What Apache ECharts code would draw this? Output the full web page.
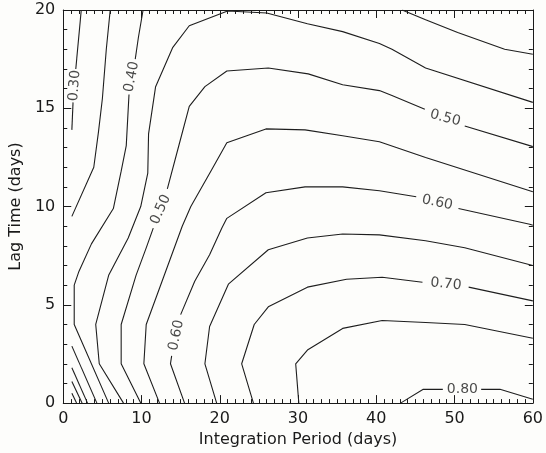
<!DOCTYPE html>
<html>
<head>
<meta charset="utf-8">
<script src="https://cdn.jsdelivr.net/npm/echarts@6/dist/echarts.min.js"></script>
<style>
  html, body { margin: 0; padding: 0; background: #fdfdfb; }
  #chart { width: 546px; height: 453px; }
</style>
</head>
<body>
<div id="chart"></div>
<script>
// contour pieces, [integration period, lag time]
const c020 = [[[1.1, 0.5], [1.7, 0]]];
const c025 = [[[1.1, 1.1], [2.4, 0]]];
const c030 = [
  [[1.1, 1.8], [3.1, 0]],
  [[2.3, 20], [1.6, 17.0]],
  [[1.25, 15.3], [1.1, 13.9]]
];
const c035 = [
  [[1.1, 2.9], [4.3, 0]],
  [[6.0, 20], [5.5, 18.0], [5.0, 15.5], [4.5, 13.8], [3.9, 12.0], [1.1, 9.5]]
];
const c040 = [
  [[10.2, 20], [9.6, 18.6], [9.2, 17.5]],
  [[8.4, 15.7], [8.05, 13.1], [7.4, 11.8], [6.4, 9.9], [3.6, 8.1], [2.0, 6.7], [1.4, 6.0], [1.4, 4.0], [5.8, 0]],
  [[43.3, 20], [46.3, 19.5], [50.4, 18.85], [56.4, 18.0], [60, 17.75]]
];
const c045 = [
  [[7.7, 0], [4.6, 2], [4.15, 4], [5.8, 6.5], [8.3, 8.4], [9.9, 10], [10.8, 11.7], [10.9, 13.7], [11.8, 16.1],
   [14, 18.1], [16.1, 19.2], [21, 19.95], [26, 19.85], [31.2, 19.3], [35.7, 18.9], [40.4, 18.3], [42, 18.0],
   [46.3, 17.05], [60, 15.3]]
];
const c050 = [
  [[9.9, 0], [7.4, 2], [7.4, 4], [9.3, 6.5], [10.6, 7.9], [11.5, 8.9]],
  [[13.3, 10.9], [15, 13.45], [16.1, 15.1], [18.1, 16.1], [20.9, 16.9], [26.2, 17.05], [31.3, 16.75],
   [35.7, 16.2], [40.4, 15.9], [42, 15.65], [46.2, 14.95]],
  [[51.3, 14.1], [59.6, 13.1], [60, 13.05]]
];
const c055 = [
  [[12.3, 0], [10.3, 2], [10.6, 4], [15.2, 9.0], [16.3, 10.0], [19, 11.9], [20.9, 13.25], [25.9, 13.95],
   [30.9, 13.9], [35.7, 13.6], [40.4, 13.3], [46.3, 12.5], [60, 10.75]]
];
const c060 = [
  [[15.5, 0], [13.7, 2], [13.85, 2.4]],
  [[15.0, 4.5], [16.8, 6.2], [18.7, 7.55], [20.25, 8.9], [20.9, 9.4], [25.9, 10.7], [30.9, 11.0],
   [35.7, 11.0], [40.4, 10.8], [45.1, 10.5]],
  [[50.5, 9.9], [59.6, 9.1], [60, 9.05]]
];
const c065 = [
  [[19.6, 0], [18.1, 2], [18.7, 3.9], [21.1, 6.05], [26.2, 7.8], [31.2, 8.4], [35.7, 8.6], [40.4, 8.56],
   [46.3, 8.26], [51.3, 7.9], [60, 7.0]]
];
const c070 = [
  [[24.3, 0], [22.8, 2], [24.4, 4], [26.2, 4.9], [31.2, 5.9], [36.2, 6.3], [40.75, 6.4], [45.9, 6.15]],
  [[51.8, 5.9], [60, 5.2]]
];
const c075 = [
  [[30.1, 0], [29.7, 2], [31.2, 2.7], [35.7, 3.8], [40.75, 4.2], [46.3, 4.1], [51.3, 4.0], [60, 3.3]]
];
const c080 = [
  [[43.1, 0], [46, 0.7], [48.5, 0.7]],
  [[53.4, 0.7], [55.8, 0.7], [60, 0.2]]
];

const labelText = ['0.30', '0.40', '0.50', '0.60', '0.50', '0.60', '0.70', '0.80'];
const labelPos = [[1.45, 16.15], [8.75, 16.6], [12.45, 9.85], [14.45, 3.45], [48.8, 14.5], [47.8, 10.2], [48.9, 6.05], [51.0, 0.72]];
const labelAngle = [85, 79, 66, 78, -15, -12, -6, 0];

const xTicks = { min: 0, max: 60, step: 10 };
const yTicks = { min: 0, max: 20, step: 5 };

const allContours = [c020, c025, c030, c035, c040, c045, c050, c055, c060, c065, c070, c075, c080];

const series = [];
allContours.forEach(function (pieces) {
  pieces.forEach(function (pts) {
    series.push({
      type: 'line',
      data: pts,
      showSymbol: false,
      silent: true,
      lineStyle: { color: '#1e1e1e', width: 1.1 }
    });
  });
});
series.push({
  type: 'scatter',
  symbolSize: 0,
  silent: true,
  data: labelPos.map(function (p, i) {
    return {
      value: p,
      label: { show: true, position: 'inside', formatter: labelText[i], rotate: labelAngle[i] }
    };
  }),
  label: { fontFamily: 'DejaVu Sans', fontSize: 14, color: '#1a1a1a' }
});

function boxAxis(pos, t, showLabels, name) {
  return {
    type: 'value',
    position: pos,
    min: t.min,
    max: t.max,
    interval: t.step,
    name: name || '',
    nameLocation: 'middle',
    nameGap: (pos === 'left') ? 38 : 27,
    nameTextStyle: { fontFamily: 'DejaVu Sans', fontSize: 16, color: '#1a1a1a' },
    axisLine: { show: true, onZero: false, lineStyle: { color: '#1a1a1a', width: 1 } },
    axisTick: { show: true, inside: true, length: 8, lineStyle: { color: '#1a1a1a' } },
    minorTick: { show: true, splitNumber: (t.step === 10) ? 10 : 5, length: 4, lineStyle: { color: '#1a1a1a' } },
    splitLine: { show: false },
    axisLabel: { show: showLabels, fontFamily: 'DejaVu Sans', fontSize: 16, color: '#1a1a1a', margin: 8 }
  };
}

const chart = echarts.init(document.getElementById('chart'));
chart.setOption({
  animation: false,
  backgroundColor: '#fdfdfb',
  grid: { left: 59, right: 10, top: 10, bottom: 46 },
  xAxis: [boxAxis('bottom', xTicks, true, 'Integration Period (days)'), boxAxis('top', xTicks, false)],
  yAxis: [boxAxis('left', yTicks, true, 'Lag Time (days)'), boxAxis('right', yTicks, false)],
  series: series
});
</script>
</body>
</html>
